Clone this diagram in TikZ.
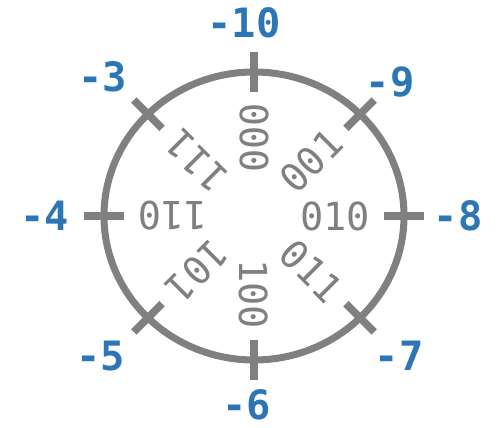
\documentclass[tikz,border=0pt]{standalone}
\usepackage{fontspec}
\setmonofont{DejaVu Sans Mono}
\usepackage{xcolor}
\usepackage{tikz}
\usetikzlibrary{positioning, calc}
\definecolor{cB}{RGB}{46,117,182}
\definecolor{cG}{RGB}{128,128,128}

\begin{document}
\begin{tikzpicture}[x=0.02cm, y=0.02cm,
                    rim/.style={draw=cG, line width=4pt},
                    notch/.style={draw=cG, line width=4.4pt},
                    val/.style={text=cB, font=\ttfamily\bfseries\fontsize{23}{23}\selectfont, inner sep=0pt},
                    code/.style={text=cG, font=\ttfamily\fontsize{22}{22}\selectfont, inner sep=0pt}]
    \useasboundingbox (-254,-212) rectangle (246,216);

    % Wheel
    \coordinate (O) at (0,0);
    \draw[rim] (O) ellipse (150 and 144);

    % Notches
    \draw[notch] (90:130 and 124)  -- (90:170 and 164);
    \draw[notch] (45:130 and 124)  -- (45:170 and 164);
    \draw[notch] (0:130 and 124)   -- (0:170 and 164);
    \draw[notch] (-45:130 and 124) -- (-45:170 and 164);
    \draw[notch] (-90:130 and 124) -- (-90:170 and 164);
    \draw[notch] (225:130 and 124) -- (225:170 and 164);
    \draw[notch] (180:130 and 124) -- (180:170 and 164);
    \draw[notch] (135:130 and 124) -- (135:170 and 164);

    % Outer values
    \node[val] (V10) at (-10,193)  {-10};
    \node[val] (V9)  at (136,134)  {-9};
    \node[val] (V8)  at (204,0)    {-8};
    \node[val] (V7)  at (145,-140) {-7};
    \node[val] (V6)  at (-7,-189)  {-6};
    \node[val] (V5)  at (-153,-140) {-5};
    \node[val] (V4)  at (-209,0)   {-4};
    \node[val] (V3)  at (-151,139) {-3};

    % Inner codes
    \node[code, rotate=90]  (C000) at (90:81 and 78)  {000};
    \node[code, rotate=45]  (C001) at (45:81 and 78)  {001};
    \node[code]             (C010) at (0:81 and 78)   {010};
    \node[code, rotate=-45] (C011) at (-45:81 and 78) {011};
    \node[code, rotate=-90] (C100) at (-90:81 and 78) {100};
    \node[code, rotate=225] (C101) at (225:81 and 78) {101};
    \node[code, rotate=180] (C110) at (180:81 and 78) {110};
    \node[code, rotate=135] (C111) at (135:81 and 78) {111};
\end{tikzpicture}
\end{document}
